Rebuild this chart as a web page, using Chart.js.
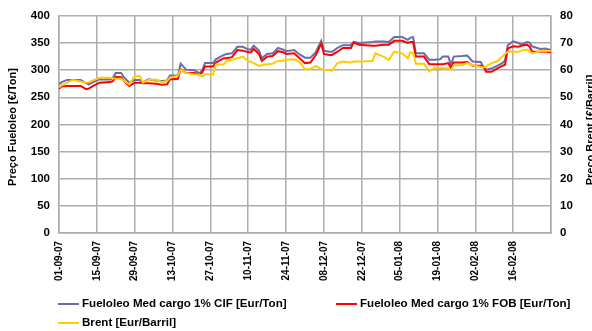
<!DOCTYPE html>
<html lang="pt">

<head>
    <meta charset="UTF-8">
    <title>Fueloleo e Brent</title>
    <style>
        body { margin: 0; background: #fff; }
    </style>
</head>

<body>
    <canvas id="grafico" width="592" height="331"></canvas>

    <script src="https://cdn.jsdelivr.net/npm/chart.js"></script>

    <script>
        // datas das cotações (dd-mm-aa)
        const datas = [
            '01-09-07', '02-09-07', '04-09-07', '06-09-07', '09-09-07', '11-09-07', '12-09-07', '14-09-07', '16-09-07', '20-09-07',
            '21-09-07', '22-09-07', '24-09-07', '25-09-07', '27-09-07', '29-09-07', '01-10-07', '02-10-07', '04-10-07', '07-10-07',
            '09-10-07', '11-10-07', '12-10-07', '15-10-07', '16-10-07', '18-10-07', '21-10-07', '23-10-07', '24-10-07', '25-10-07',
            '28-10-07', '29-10-07', '01-11-07', '02-11-07', '04-11-07', '06-11-07', '08-11-07', '10-11-07', '11-11-07', '12-11-07',
            '14-11-07', '15-11-07', '17-11-07', '19-11-07', '21-11-07', '23-11-07', '24-11-07', '27-11-07', '29-11-07', '01-12-07',
            '03-12-07', '05-12-07', '07-12-07', '08-12-07', '10-12-07', '11-12-07', '13-12-07', '15-12-07', '18-12-07', '19-12-07',
            '21-12-07', '26-12-07', '27-12-07', '30-12-07', '01-01-08', '03-01-08', '06-01-08', '08-01-08', '09-01-08', '10-01-08',
            '11-01-08', '14-01-08', '16-01-08', '18-01-08', '20-01-08', '21-01-08', '23-01-08', '24-01-08', '25-01-08', '28-01-08',
            '30-01-08', '01-02-08', '04-02-08', '05-02-08', '06-02-08', '08-02-08', '10-02-08', '12-02-08', '13-02-08', '14-02-08',
            '16-02-08', '18-02-08', '19-02-08', '21-02-08', '22-02-08', '23-02-08', '26-02-08', '28-02-08', '01-03-08'
        ];

        // Fueloleo Med cargo 1% CIF [Eur/Ton]
        const cif = [
            274, 278, 282, 282, 282, 276, 274, 279, 283, 283,
            287, 295, 295, 287, 277, 282, 282, 277, 283, 281,
            280, 281, 290, 290, 312, 301, 300, 294, 300, 313,
            313, 320, 328, 330, 331, 343, 343, 338, 338, 345,
            336, 322, 330, 331, 341, 338, 335, 337, 329, 323,
            323, 333, 354, 336, 334, 334, 341, 346, 346, 352,
            350, 352, 353, 353, 352, 361, 361, 356, 360, 361,
            331, 331, 319, 319, 320, 325, 325, 310, 325, 326,
            327, 316, 315, 306, 301, 303, 308, 313, 318, 346,
            353, 350, 347, 352, 351, 344, 339, 340, 337
        ];

        // Fueloleo Med cargo 1% FOB [Eur/Ton]
        const fob = [
            266, 270, 271, 271, 271, 265, 266, 272, 277, 278,
            280, 288, 287, 280, 271, 277, 277, 276, 276, 275,
            273, 274, 283, 284, 302, 295, 295, 292, 296, 307,
            307, 314, 322, 322, 324, 337, 336, 333, 333, 339,
            330, 317, 325, 326, 335, 333, 330, 331, 322, 313,
            314, 328, 349, 330, 328, 328, 334, 341, 341, 351,
            347, 345, 345, 347, 347, 354, 354, 350, 352, 352,
            325, 325, 311, 311, 311, 311, 313, 304, 314, 314,
            315, 308, 308, 306, 297, 297, 303, 308, 310, 340,
            344, 343, 345, 347, 344, 334, 334, 334, 333
        ];

        // Brent [Eur/Barril]
        const brent = [
            53.6, 54.4, 55.4, 56.4, 55.8, 55.4, 55.6, 56.4, 57.2, 57.2,
            57.0, 56.8, 56.8, 56.0, 54.8, 57.8, 57.8, 55.4, 56.4, 56.6,
            55.6, 56.0, 57.2, 58.0, 60.2, 59.0, 58.4, 58.4, 57.6, 58.6,
            58.4, 62.0, 62.2, 63.4, 63.8, 64.4, 65.0, 63.2, 63.2, 62.6,
            61.6, 61.8, 62.2, 62.4, 63.4, 63.6, 63.8, 64.0, 63.0, 60.4,
            60.4, 61.6, 60.4, 60.2, 60.0, 59.8, 62.6, 63.2, 62.8, 63.2,
            63.2, 63.4, 66.2, 65.0, 63.8, 66.8, 66.2, 64.4, 66.6, 66.4,
            62.4, 62.4, 59.6, 61.0, 60.8, 60.8, 60.6, 60.0, 61.8, 61.8,
            62.6, 61.8, 61.2, 61.0, 61.4, 62.6, 63.2, 65.0, 66.0, 66.8,
            66.8, 66.8, 67.2, 67.6, 67.0, 66.2, 67.0, 67.0, 67.2
        ];

        const inicio = new Date(2007, 8, 1);
        const passoDias = 14;
        const totalDias = 182;

        const fonte = "'Liberation Sans', Arial, sans-serif";
        const corGrelha = '#adadad';

        // converte 'dd-mm-aa' em dias desde o início
        function f_dia(p_txt) {
            let p = p_txt.split('-');
            let d = new Date(2000 + parseInt(p[2]), parseInt(p[1]) - 1, parseInt(p[0]));
            return Math.round((d - inicio) / 86400000);
        }

        function f_fmt(p_dias) {
            let d = new Date(inicio.getTime() + p_dias * 86400000);
            let dd = String(d.getDate()).padStart(2, '0');
            let mm = String(d.getMonth() + 1).padStart(2, '0');
            let aa = String(d.getFullYear() % 100).padStart(2, '0');
            return `${dd}-${mm}-${aa}`;
        }

        function f_pontos(p_valores) {
            return datas.map((d, i) => ({ x: f_dia(d), y: p_valores[i] }));
        }

        const series = [
            { label: 'Fueloleo Med cargo 1% CIF [Eur/Ton]', cor: '#6c6ca8' },
            { label: 'Fueloleo Med cargo 1% FOB [Eur/Ton]', cor: '#ff0000' },
            { label: 'Brent [Eur/Barril]', cor: '#ffcc00' }
        ];

        // títulos dos eixos e legenda desenhados à mão
        const extras = {
            id: 'extras',
            afterDraw(chart) {
                const c = chart.ctx;
                c.save();
                c.fillStyle = '#000';
                c.font = `bold 11px ${fonte}`;
                c.textAlign = 'center';
                c.textBaseline = 'middle';

                c.save();
                c.translate(13, 127);
                c.rotate(-Math.PI / 2);
                c.fillText('Preço Fueloleo [€/Ton]', 0, 0);
                c.restore();

                c.save();
                c.translate(591, 130);
                c.rotate(-Math.PI / 2);
                c.fillText('Preço Brent [€/Barril]', 0, 0);
                c.restore();

                // legenda
                const itens = [
                    { s: series[0], x: 58, y: 304 },
                    { s: series[1], x: 336, y: 304 },
                    { s: series[2], x: 58, y: 323 }
                ];
                c.font = `bold 11.6px ${fonte}`;
                c.textAlign = 'left';
                c.lineWidth = 2;
                itens.forEach(it => {
                    c.strokeStyle = it.s.cor;
                    c.beginPath();
                    c.moveTo(it.x, it.y);
                    c.lineTo(it.x + 21, it.y);
                    c.stroke();
                    c.fillText(it.s.label, it.x + 24, it.y);
                });
                c.restore();
            }
        };

        const ctx = document.getElementById('grafico');

        let chart = new Chart(ctx, {
            type: 'line',
            data: {
                datasets: [{
                    label: series[2].label,
                    data: f_pontos(brent),
                    borderColor: series[2].cor,
                    yAxisID: 'y1'
                },
                {
                    label: series[1].label,
                    data: f_pontos(fob),
                    borderColor: series[1].cor,
                    yAxisID: 'y'
                },
                {
                    label: series[0].label,
                    data: f_pontos(cif),
                    borderColor: series[0].cor,
                    yAxisID: 'y'
                }]
            },
            options: {
                responsive: false,
                animation: false,
                layout: { padding: { top: 12, left: 0, right: 0, bottom: 0 } },
                elements: {
                    point: { radius: 0 },
                    line: { borderWidth: 2, tension: 0 }
                },
                plugins: {
                    legend: { display: false },
                    tooltip: { enabled: false }
                },
                scales: {
                    x: {
                        type: 'linear',
                        min: 0,
                        max: totalDias,
                        afterFit(s) { s.height = 98; },
                        grid: { color: corGrelha, lineWidth: 1.5, drawTicks: false },
                        border: { color: corGrelha, width: 1.5 },
                        ticks: {
                            stepSize: passoDias,
                            autoSkip: false,
                            maxRotation: 90,
                            minRotation: 90,
                            padding: 8,
                            color: '#000',
                            font: { family: fonte, size: 10, weight: 'bold' },
                            callback: v => (v >= totalDias ? '' : f_fmt(v))
                        }
                    },
                    y: {
                        position: 'left',
                        min: 0,
                        max: 400,
                        afterFit(s) { s.width = 59; },
                        grid: { color: corGrelha, lineWidth: 1.5, drawTicks: false },
                        border: { color: corGrelha, width: 1.5 },
                        ticks: {
                            stepSize: 50,
                            padding: 9,
                            color: '#000',
                            font: { family: fonte, size: 11.5, weight: 'bold' }
                        }
                    },
                    y1: {
                        position: 'right',
                        min: 0,
                        max: 80,
                        afterFit(s) { s.width = 41; },
                        grid: { drawOnChartArea: false, drawTicks: false },
                        border: { color: corGrelha, width: 1.5 },
                        ticks: {
                            stepSize: 10,
                            padding: 9,
                            color: '#000',
                            font: { family: fonte, size: 11.5, weight: 'bold' }
                        }
                    }
                }
            },
            plugins: [extras]
        });
    </script>
</body>

</html>
